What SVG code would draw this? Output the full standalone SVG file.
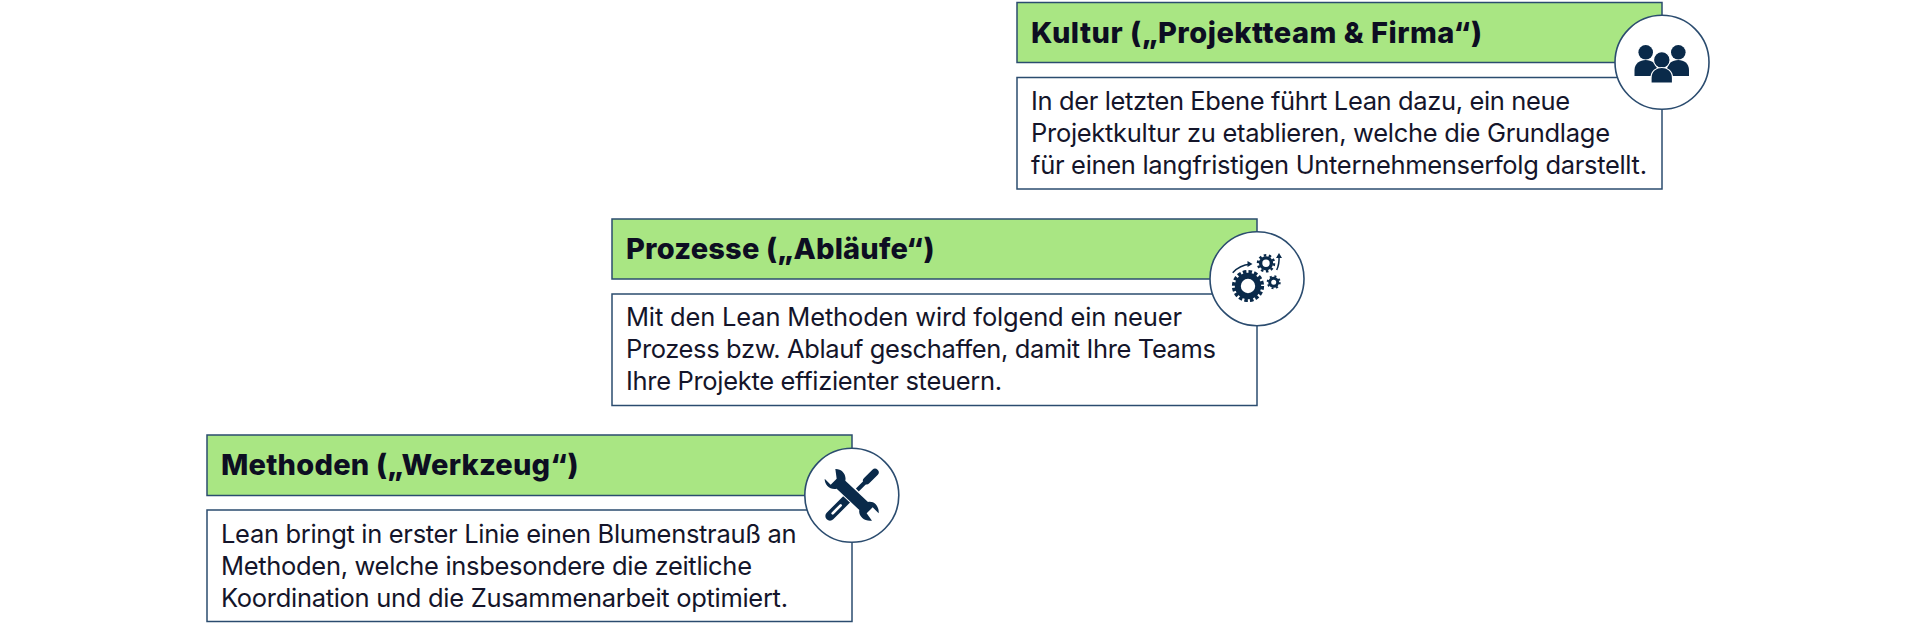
<svg xmlns="http://www.w3.org/2000/svg" width="1920" height="630" viewBox="0 0 1920 630">
<style>
.h{fill:#a9e683;stroke:#2b4c6f;stroke-width:1.5}
.b{fill:#fff;stroke:#2b4c6f;stroke-width:1.5}
.c{fill:#fff;stroke:#2b4c6f;stroke-width:1.6}
.t{font-family:Inter,"Noto Sans",sans-serif;font-weight:800;font-size:29px;fill:#0d0e22}
.p{font-family:Inter,"Noto Sans",sans-serif;font-weight:400;font-size:25.500px;fill:#14152a}
.i{fill:#0a2a4a}
.g{fill:none;stroke:#0a2a4a}
</style>
<rect width="1920" height="630" fill="#fff"/>
<g id="kultur">
<rect class="b" x="1017" y="77.500" width="645" height="111.500"/>
<rect class="h" x="1017" y="2.500" width="645" height="60"/>
<text class="t" x="1031" y="43" textLength="451">Kultur („Projektteam &amp; Firma“)</text>
<text class="p" x="1031" y="110" textLength="539">In der letzten Ebene führt Lean dazu, ein neue</text>
<text class="p" x="1031" y="142" textLength="579">Projektkultur zu etablieren, welche die Grundlage</text>
<text class="p" x="1031" y="173.500" textLength="616">für einen langfristigen Unternehmenserfolg darstellt.</text>
<circle class="c" cx="1662" cy="62.300" r="47"/>
<g class="i">
<circle cx="1645.700" cy="52.300" r="7.300"/><circle cx="1678.300" cy="52.300" r="7.300"/>
<path d="M1634.500 76V70C1634.500 63.500 1640 60 1645.700 60C1651.500 60 1657 63.500 1657 70V76Z"/>
<path d="M1667 76V70C1667 63.500 1672.500 60 1678.300 60C1684 60 1689 63.500 1689 70V76Z"/>
<circle cx="1661.800" cy="60" r="8.300" stroke="#fff" stroke-width="1.200"/>
<path d="M1651 83V78C1651 71 1656 67.500 1661.800 67.500C1667.500 67.500 1672.500 71 1672.500 78V83Z" stroke="#fff" stroke-width="1.200"/>
</g>
</g>
<g id="prozesse">
<rect class="b" x="612" y="294" width="645" height="111.500"/>
<rect class="h" x="612" y="219" width="645" height="60"/>
<text class="t" x="626" y="259" textLength="308.500">Prozesse („Abläufe“)</text>
<text class="p" x="626" y="326" textLength="556">Mit den Lean Methoden wird folgend ein neuer</text>
<text class="p" x="626" y="358" textLength="590">Prozess bzw. Ablauf geschaffen, damit Ihre Teams</text>
<text class="p" x="626" y="389.500" textLength="376">Ihre Projekte effizienter steuern.</text>
<circle class="c" cx="1257" cy="278.700" r="47"/>
<g class="g">
<circle cx="1248" cy="286" r="10.200" stroke-width="6"/>
<circle cx="1248" cy="286" r="14.200" stroke-width="3.800" stroke-dasharray="3.500 2.080"/>
<circle cx="1266" cy="263.300" r="5.400" stroke-width="3.400"/>
<circle cx="1266" cy="263.300" r="8" stroke-width="2.500" stroke-dasharray="2.500 2.530"/>
<circle cx="1273.700" cy="282.300" r="4" stroke-width="3"/>
<circle cx="1273.700" cy="282.300" r="6" stroke-width="2" stroke-dasharray="2 2.710"/>
<path d="M1232.700 272.700Q1240 265 1250 264.300" stroke-width="1.500"/>
<path d="M1276.700 270Q1279.500 264 1279 256" stroke-width="1.500"/>
</g>
<g class="i">
<path d="M1252.500 264L1247.500 261V267Z"/>
<path d="M1279 253L1276 258H1282Z"/>
</g>
</g>
<g id="methoden">
<rect class="b" x="207" y="510" width="645" height="111.500"/>
<rect class="h" x="207" y="435" width="645" height="60.500"/>
<text class="t" x="221" y="475" textLength="357.500">Methoden („Werkzeug“)</text>
<text class="p" x="221" y="543" textLength="575.500">Lean bringt in erster Linie einen Blumenstrauß an</text>
<text class="p" x="221" y="575" textLength="531">Methoden, welche insbesondere die zeitliche</text>
<text class="p" x="221" y="606.500" textLength="567">Koordination und die Zusammenarbeit optimiert.</text>
<circle class="c" cx="851.800" cy="495.300" r="47"/>
<g transform="translate(780 450) scale(.33333)">
<path class="g" d="M150 198L204 144" stroke-width="28" stroke-linecap="round"/>
<path d="M158 190L182 166" stroke="#fff" stroke-width="8" stroke-linecap="round" fill="none"/>
<path class="g" d="M232 120L262 90" stroke-width="12"/>
<path class="g" d="M260 92L285 67" stroke-width="22" stroke-linecap="round"/>
<path class="i" stroke="#fff" stroke-width="6" paint-order="stroke" d="M166 57C184 56 200 72 196 92L264 156C282 152 298 168 296 190L278 172L260 190L276 212C254 216 234 198 238 180L170 116C150 120 134 106 134 86L152 104L170 86Z"/>
</g>
</g>
</svg>
